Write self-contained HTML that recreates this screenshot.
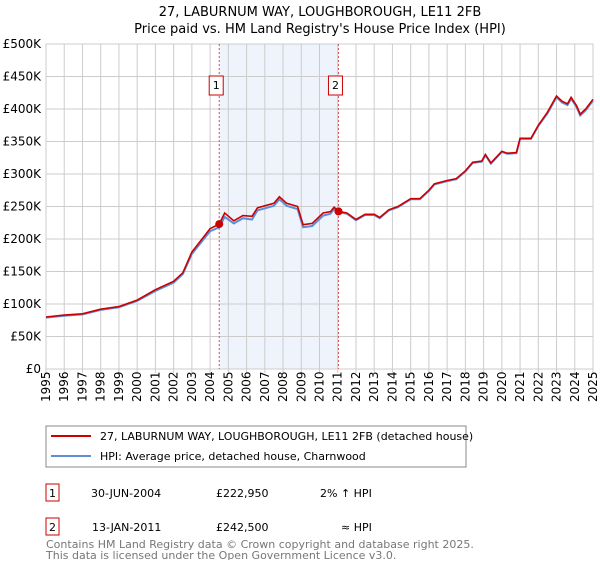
<!DOCTYPE html>
<html><head><meta charset="utf-8"><style>
body{margin:0;background:#fff;font-family:"Liberation Sans","DejaVu Sans",sans-serif;}
svg text{font-family:"DejaVu Sans","Liberation Sans",sans-serif;}
</style></head><body>
<svg id="c" width="600" height="560" xmlns="http://www.w3.org/2000/svg">
<text x="320" y="16" text-anchor="middle" font-size="13">27, LABURNUM WAY, LOUGHBOROUGH, LE11 2FB</text>
<text x="320" y="33" text-anchor="middle" font-size="13">Price paid vs. HM Land Registry's House Price Index (HPI)</text>
<g id="grid"></g><g id="plot"></g>
<g>
<rect x="46" y="426" width="420" height="41" fill="#fff" stroke="#888"/>
<line x1="51" y1="436" x2="91" y2="436" stroke="#cc0000" stroke-width="2"/>
<text x="100" y="440" font-size="11">27, LABURNUM WAY, LOUGHBOROUGH, LE11 2FB (detached house)</text>
<line x1="51" y1="456" x2="91" y2="456" stroke="#5b8fd6" stroke-width="2"/>
<text x="100" y="460" font-size="11">HPI: Average price, detached house, Charnwood</text>
</g>
<g font-size="11">
<rect x="46" y="484" width="13" height="17" fill="#fff" stroke="#cc0000"/><text x="52.5" y="497" text-anchor="middle">1</text>
<text x="91" y="497">30-JUN-2004</text><text x="216" y="497">£222,950</text><text x="320" y="497">2% ↑ HPI</text>
<rect x="46" y="518" width="13" height="17" fill="#fff" stroke="#cc0000"/><text x="52.5" y="531" text-anchor="middle">2</text>
<text x="92" y="531">13-JAN-2011</text><text x="216" y="531">£242,500</text><text x="341" y="531">≈ HPI</text>
</g>
<text x="46" y="548" font-size="11" fill="#777">Contains HM Land Registry data © Crown copyright and database right 2025.</text>
<text x="46" y="559" font-size="11" fill="#777">This data is licensed under the Open Government Licence v3.0.</text>
</svg>
<script>
const years=[1995,1996,1997,1998,1999,2000,2001,2002,2002.5,2003,2004,2004.5,2004.8,2005.3,2005.8,2006.3,2006.6,2007.5,2007.8,2008.2,2008.8,2009.1,2009.6,2010.2,2010.6,2010.8,2011.04,2011.5,2012,2012.5,2013,2013.3,2013.8,2014.3,2015,2015.5,2016,2016.3,2017,2017.5,2018,2018.4,2018.9,2019.1,2019.4,2020,2020.3,2020.8,2021,2021.6,2022,2022.5,2023,2023.3,2023.6,2023.8,2024.1,2024.3,2024.6,2025];
const priceValues=[80,83,85,92,96,106,122,135,148,180,216,222.95,240,228,236,235,248,255,265,255,250,222,224,240,242,249,242.5,240,230,238,238,233,245,250,262,262,275,285,290,293,305,318,320,330,317,335,332,333,355,355,375,395,420,412,408,418,405,392,400,415];
const hpiValues=[79,82,84,91,95,105,120,133,146,177,212,218,234,224,232,230,244,251,261,251,246,218,220,236,239,246,241,239,229,237,237,232,244,249,261,261,274,284,289,292,304,317,319,329,316,334,331,332,354,354,374,393,418,410,406,416,403,390,398,413];
const saleYears=[2004.5,2011.04];
const salePrices=[222.95,242.5];
const yTicks=[0,50,100,150,200,250,300,350,400,450,500];
const xTicks=[1995,1996,1997,1998,1999,2000,2001,2002,2003,2004,2005,2006,2007,2008,2009,2010,2011,2012,2013,2014,2015,2016,2017,2018,2019,2020,2021,2022,2023,2024,2025];
const NS="http://www.w3.org/2000/svg";
const X0=46,X1=593,Y0=369,Y1=44;
const xs=y=>X0+(y-1995)/30*(X1-X0);
const ys=v=>Y0-v/500*(Y0-Y1);
function mk(t,a,p){const e=document.createElementNS(NS,t);for(const k in a)e.setAttribute(k,a[k]);p.appendChild(e);return e;}
const g=document.getElementById('grid'),p=document.getElementById('plot');
const shade=mk('rect',{x:xs(saleYears[0]),y:Y1,width:xs(saleYears[1])-xs(saleYears[0]),height:Y0-Y1,fill:'#eef3fc'},g);


yTicks.forEach(v=>{
 const l=mk('line',{x1:X0,x2:X1,y1:ys(v),y2:ys(v),stroke:'#ccc'},g);
 
 
 const t=mk('text',{x:X0-5,y:ys(v)+4,'text-anchor':'end','font-size':'12'},g);
 
 
 t.textContent=v===0?'£0':'£'+v+'K';
});
xTicks.forEach(y=>{
 const l=mk('line',{x1:xs(y),x2:xs(y),y1:Y1,y2:Y0+4,stroke:'#ccc'},g);
 
 
 const t=mk('text',{transform:`translate(${xs(y)+4},${Y0+33}) rotate(-90)`,'font-size':'12'},g);
 
 
 t.textContent=y;
});
function path(vals){return years.map((y,i)=>(i?'L':'M')+xs(y).toFixed(1)+','+ys(vals[i]).toFixed(1)).join('');}
const hl=mk('path',{d:path(hpiValues),fill:'none',stroke:'#5b8fd6','stroke-width':'2'},p);


const pl=mk('path',{d:path(priceValues),fill:'none',stroke:'#cc0000','stroke-width':'1.6'},p);


saleYears.forEach((y,i)=>{
 const l=mk('line',{x1:xs(y),x2:xs(y),y1:Y1,y2:Y0,stroke:'#e05050','stroke-dasharray':'2,2'},p);
 
 
 const c=mk('circle',{cx:xs(y),cy:ys(salePrices[i]),r:4,fill:'#cc0000'},p);
 
 
 const r=mk('rect',{x:xs(y)-10,y:76,width:14,height:19,fill:'#fff',stroke:'#cc0000'},p);
 
 
 const t=mk('text',{x:xs(y)-3,y:89,'text-anchor':'middle','font-size':'11'},p);
 
 
 t.textContent=i+1;
});
mk('rect',{x:X0,y:Y1,width:X1-X0,height:Y0-Y1,fill:'none',stroke:'#ccc'},g);
</script>
</body></html>
